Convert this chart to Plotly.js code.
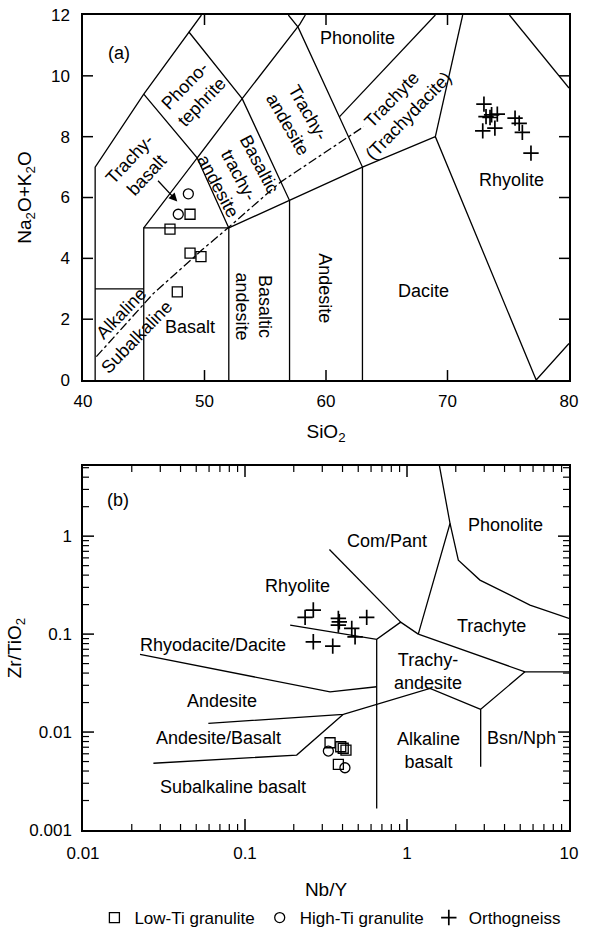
<!DOCTYPE html>
<html>
<head>
<meta charset="utf-8">
<script src="https://cdn.plot.ly/plotly-3.0.1.min.js"></script>
<style>
  html, body { margin: 0; padding: 0; background: #fff; }
  #chart { width: 590px; height: 932px; }
</style>
</head>
<body>
<div id="chart"></div>
<script>
// ---- (a) TAS diagram: SiO2 vs Na2O+K2O (wt.%) ----
const siO2Low = [47.16, 48.81, 48.81, 49.71, 47.76];
const alkLow = [4.96, 5.45, 4.17, 4.06, 2.90];
const siO2High = [48.67, 47.84];
const alkHigh = [6.12, 5.45];
const siO2Ortho = [73.0, 73.17, 73.5, 73.63, 74.1, 73.9, 72.9, 75.56, 75.9, 76.16, 76.87];
const alkOrtho = [9.07, 8.66, 8.63, 8.72, 8.74, 8.28, 8.19, 8.61, 8.44, 8.14, 7.46];
const tasXTicks = [40, 50, 60, 70, 80];
const tasYTicks = [0, 2, 4, 6, 8, 10, 12];

// field boundaries of the TAS classification, each a polyline of [SiO2, Na2O+K2O]
const tasFieldLines = [
  [[41, 0], [41, 7], [45, 9.4], [48.7, 11.45], [49.75, 12]],
  [[41, 3], [45, 3]],
  [[45, 0], [45, 5], [52, 5], [52, 0]],
  [[45, 5], [49.4, 7.3], [52, 5]],
  [[45, 9.4], [49.4, 7.3], [53.1, 9.25], [57.85, 11.7], [58.3, 12]],
  [[48.7, 11.45], [53.1, 9.25], [57, 5.9], [57, 0]],
  [[52, 5], [57, 5.9], [63, 7], [69, 8], [77.3, 0], [80, 1.2]],
  [[63, 0], [63, 7], [57.7, 11.6], [56.9, 12]],
  [[61.1, 8.65], [69, 12]],
  [[69, 8], [71.25, 12]],
  [[75.1, 12], [80, 9.6]]
];
// alkaline / subalkaline divide
const alkalineDivide = [[41.1, 0.77], [45.8, 2.85], [49.8, 4.28], [51.9, 4.99], [56.2, 6.49], [63.1, 8.33]];

// ---- (b) Nb/Y vs Zr/TiO2 ----
const nbYLow = [0.335, 0.390, 0.404, 0.420, 0.377];
const zrTiLow = [0.00778, 0.00708, 0.00683, 0.00655, 0.00468];
const nbYHigh = [0.327, 0.414];
const zrTiHigh = [0.0064, 0.00432];
const nbYOrtho = [0.235, 0.264, 0.377, 0.382, 0.377, 0.456, 0.564, 0.478, 0.264, 0.348];
const zrTiOrtho = [0.148, 0.176, 0.1445, 0.1335, 0.1236, 0.1143, 0.148, 0.0938, 0.0834, 0.0754];
const nbYTicks = [0.01, 0.1, 1, 10];
const nbYTickText = ['0.01', '0.1', '1', '10'];
const zrTiTicks = [0.001, 0.01, 0.1, 1];
const zrTiTickText = ['0.001', '0.01', '0.1', '1'];

// field boundaries, each a polyline of [Nb/Y, Zr/TiO2]
const wfFieldLines = [
  [[0.332, 0.732], [0.914, 0.1326]],
  [[0.190, 0.1236], [0.650, 0.0883], [0.914, 0.1326], [1.174, 0.100]],
  [[1.174, 0.100], [1.843, 1.348], [1.583, 5.3]],
  [[1.843, 1.348], [2.074, 0.569], [2.82, 0.356], [5.745, 0.198], [10, 0.1445]],
  [[1.174, 0.100], [5.35, 0.0412], [10, 0.0412]],
  [[5.35, 0.0412], [2.85, 0.01707], [2.85, 0.00443]],
  [[2.85, 0.01707], [1.387, 0.0279], [0.4045, 0.01517], [0.0594, 0.01227]],
  [[0.0272, 0.0048], [0.2085, 0.00582], [0.4045, 0.01517]],
  [[0.02249, 0.0621], [0.335, 0.02576], [0.650, 0.029]],
  [[0.650, 0.0883], [0.650, 0.00166]]
];

function joinLines(lines) {
  const x = [], y = [];
  lines.forEach(function (line) {
    line.forEach(function (p) { x.push(p[0]); y.push(p[1]); });
    x.push(null); y.push(null);
  });
  return {x: x, y: y};
}

// axis ranges (in axis range units) and plot-area sizes in px
const rangeA = {x: [40, 80], y: [0, 12]};
const rangeB = {x: [-2, 1], y: [-3, 0.716]};
const plotW = 486, plotHA = 365, plotHB = 364;

function minorVals(decades) {
  const v = [];
  decades.forEach(function (d) { for (let k = 2; k <= 9; k++) v.push(+(k * d).toPrecision(3)); });
  return v;
}

// inward tick marks on both sides of a frame, built as line segments in range units
function tickSegments(xVals, yVals, range, isLog, lenPx, w, h) {
  const fwd = isLog ? Math.log10 : function (v) { return v; };
  const back = isLog ? function (r) { return Math.pow(10, r); } : function (r) { return r; };
  const dy = (range.y[1] - range.y[0]) * lenPx / h;
  const dx = (range.x[1] - range.x[0]) * lenPx / w;
  const x = [], y = [];
  const inside = function (r, lim) { return r > lim[0] + 1e-9 && r < lim[1] - 1e-9; };
  xVals.forEach(function (v) {
    const r = fwd(v);
    if (!inside(r, range.x)) return;
    x.push(v, v, null, v, v, null);
    y.push(back(range.y[0]), back(range.y[0] + dy), null, back(range.y[1]), back(range.y[1] - dy), null);
  });
  yVals.forEach(function (v) {
    const r = fwd(v);
    if (!inside(r, range.y)) return;
    y.push(v, v, null, v, v, null);
    x.push(back(range.x[0]), back(range.x[0] + dx), null, back(range.x[1]), back(range.x[1] - dx), null);
  });
  return {x: x, y: y};
}

const font = 'Liberation Sans, Arial, Helvetica, sans-serif';
const ink = 'black';
const tas = joinLines(tasFieldLines);
const wf = joinLines(wfFieldLines);
const ticksA = tickSegments(tasXTicks, tasYTicks, rangeA, false, 10, plotW, plotHA);
const ticksBMajor = tickSegments(nbYTicks, zrTiTicks, rangeB, true, 11, plotW, plotHB);
const ticksBMinor = tickSegments(minorVals([0.01, 0.1, 1]), minorVals([0.001, 0.01, 0.1, 1]), rangeB, true, 6, plotW, plotHB);

const symLow = {symbol: 'square-open', size: 10, color: ink, line: {width: 1.3, color: ink}};
const symHigh = {symbol: 'circle-open', size: 10, color: ink, line: {width: 1.3, color: ink}};
const symOrtho = {symbol: 'cross-thin-open', size: 11, color: ink, line: {width: 1.7, color: ink}};

const traces = [
  {x: tas.x, y: tas.y, xaxis: 'x', yaxis: 'y', mode: 'lines', line: {color: ink, width: 1.3}, showlegend: false, hoverinfo: 'skip'},
  {x: alkalineDivide.map(p => p[0]), y: alkalineDivide.map(p => p[1]), xaxis: 'x', yaxis: 'y', mode: 'lines',
   line: {color: ink, width: 1.3, dash: '9px,3px,3px,3px'}, showlegend: false, hoverinfo: 'skip'},
  {x: wf.x, y: wf.y, xaxis: 'x2', yaxis: 'y2', mode: 'lines', line: {color: ink, width: 1.3}, showlegend: false, hoverinfo: 'skip'},

  {x: ticksA.x, y: ticksA.y, xaxis: 'x', yaxis: 'y', mode: 'lines', line: {color: ink, width: 1.5}, showlegend: false, hoverinfo: 'skip'},
  {x: ticksBMajor.x, y: ticksBMajor.y, xaxis: 'x2', yaxis: 'y2', mode: 'lines', line: {color: ink, width: 1.5}, showlegend: false, hoverinfo: 'skip'},
  {x: ticksBMinor.x, y: ticksBMinor.y, xaxis: 'x2', yaxis: 'y2', mode: 'lines', line: {color: ink, width: 1.2}, showlegend: false, hoverinfo: 'skip'},

  {x: siO2Low, y: alkLow, xaxis: 'x', yaxis: 'y', mode: 'markers', marker: symLow, name: 'Low-Ti granulite', legendgroup: 'low'},
  {x: siO2High, y: alkHigh, xaxis: 'x', yaxis: 'y', mode: 'markers', marker: symHigh, name: 'High-Ti granulite', legendgroup: 'high'},
  {x: siO2Ortho, y: alkOrtho, xaxis: 'x', yaxis: 'y', mode: 'markers', marker: symOrtho, name: 'Orthogneiss', legendgroup: 'ortho'},

  {x: nbYLow, y: zrTiLow, xaxis: 'x2', yaxis: 'y2', mode: 'markers', marker: symLow, name: 'Low-Ti granulite', legendgroup: 'low', showlegend: false},
  {x: nbYHigh, y: zrTiHigh, xaxis: 'x2', yaxis: 'y2', mode: 'markers', marker: symHigh, name: 'High-Ti granulite', legendgroup: 'high', showlegend: false},
  {x: nbYOrtho, y: zrTiOrtho, xaxis: 'x2', yaxis: 'y2', mode: 'markers', marker: symOrtho, name: 'Orthogneiss', legendgroup: 'ortho', showlegend: false}
];

// label helpers
function labelA(text, x, y, angle) {
  return {text: text, x: x, y: y, xref: 'x', yref: 'y', showarrow: false, textangle: angle || 0,
          font: {family: font, size: 18, color: ink}, align: 'center'};
}
function labelB(text, x, y) {
  return {text: text, x: Math.log10(x), y: Math.log10(y), xref: 'x2', yref: 'y2', showarrow: false,
          font: {family: font, size: 18, color: ink}, align: 'center'};
}

const annotations = [
  labelA('(a)', 42.96, 10.76),
  labelA('Phonolite', 62.58, 11.24),
  labelA('Phono-<br>tephrite', 49.08, 9.42, -46),
  labelA('Trachy-<br>basalt', 44.49, 6.99, -47),
  labelA('Basaltic<br>trachy-<br>andesite', 52.84, 6.74, 62),
  labelA('Trachy-<br>andesite', 57.7, 8.6, 60),
  labelA('Trachyte<br>(Trachydacite)', 66.1, 8.95, -46),
  labelA('Rhyolite', 75.28, 6.58),
  labelA('Basaltic<br>andesite', 54.02, 2.41, 90),
  labelA('Andesite', 59.92, 3.02, 90),
  labelA('Dacite', 68.01, 2.94),
  labelA('Basalt', 48.81, 1.75),
  labelA('Alkaline', 43.19, 2.19, -46),
  labelA('Subalkaline', 44.42, 1.42, -46),
  {text: '', x: 47.76, y: 5.87, xref: 'x', yref: 'y', ax: 46.06, ay: 6.6, axref: 'x', ayref: 'y',
   showarrow: true, arrowhead: 2, arrowsize: 1.3, arrowwidth: 1.3, arrowcolor: ink, standoff: 0},

  labelB('(b)', 0.01652, 2.33),
  labelB('Com/Pant', 0.749, 0.895),
  labelB('Phonolite', 4.03, 1.294),
  labelB('Rhyolite', 0.2123, 0.309),
  labelB('Trachyte', 3.335, 0.1208),
  labelB('Rhyodacite/Dacite', 0.0637, 0.0773),
  labelB('Andesite', 0.0718, 0.0207),
  labelB('Andesite/Basalt', 0.0684, 0.00863),
  labelB('Subalkaline basalt', 0.0849, 0.00277),
  labelB('Trachy-<br>andesite', 1.354, 0.0412),
  labelB('Alkaline<br>basalt', 1.354, 0.00655),
  labelB('Bsn/Nph', 5.10, 0.00863)
];

const axisBase = {
  showline: true, linecolor: ink, linewidth: 1.5, mirror: true,
  ticks: '', showgrid: false, zeroline: false,
  tickfont: {family: font, size: 17, color: ink}
};

const layout = {
  width: 590, height: 932,
  margin: {l: 83, r: 21, t: 15, b: 102, autoexpand: false},
  paper_bgcolor: 'white', plot_bgcolor: 'white',
  font: {family: font, color: ink},
  showlegend: true,
  legend: {orientation: 'h', xref: 'container', yref: 'container', x: 0.16, xanchor: 'left', y: 0.015, yanchor: 'middle',
           font: {family: font, size: 17, color: ink}, itemwidth: 30, tracegroupgap: 0},
  xaxis: Object.assign({}, axisBase, {
    anchor: 'y', domain: [0, 1], range: rangeA.x, tickmode: 'array', tickvals: tasXTicks,
    ticklabelstandoff: 5,
    title: {text: 'SiO<sub>2</sub>', font: {family: font, size: 19, color: ink}, standoff: 15}
  }),
  yaxis: Object.assign({}, axisBase, {
    anchor: 'x', domain: [0.5521, 1], range: rangeA.y, tickmode: 'array', tickvals: tasYTicks,
    ticklabelstandoff: 8,
    title: {text: 'Na<sub>2</sub>O+K<sub>2</sub>O', font: {family: font, size: 19, color: ink}, standoff: 14}
  }),
  xaxis2: Object.assign({}, axisBase, {
    anchor: 'y2', domain: [0, 1], type: 'log', range: rangeB.x,
    tickmode: 'array', tickvals: nbYTicks, ticktext: nbYTickText,
    ticklabelstandoff: 7,
    title: {text: 'Nb/Y', font: {family: font, size: 19, color: ink}, standoff: 25}
  }),
  yaxis2: Object.assign({}, axisBase, {
    anchor: 'x2', domain: [0, 0.4466], type: 'log', range: rangeB.y,
    tickmode: 'array', tickvals: zrTiTicks, ticktext: zrTiTickText,
    ticklabelstandoff: 6,
    title: {text: 'Zr/TiO<sub>2</sub>', font: {family: font, size: 19, color: ink}, standoff: 3}
  }),
  annotations: annotations
};

Plotly.newPlot('chart', traces, layout, {displayModeBar: false, responsive: false});
</script>
</body>
</html>
